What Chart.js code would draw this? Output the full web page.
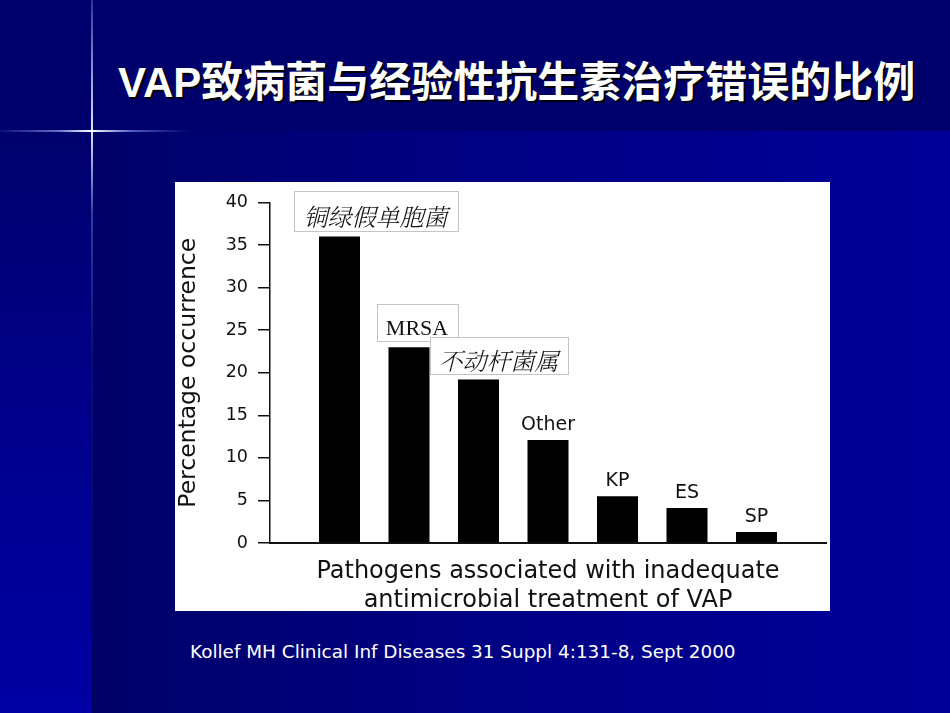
<!DOCTYPE html>
<html>
<head>
<meta charset="utf-8">
<script src="https://cdn.jsdelivr.net/npm/chart.js@4"></script>
<style>
  html, body { margin: 0; padding: 0; }
  body {
    width: 950px; height: 713px; overflow: hidden; position: relative;
    background: #00006c;
  }
  #lower {
    position: absolute; left: 92px; top: 131px; width: 858px; height: 582px;
    background: linear-gradient(to right, #000068 0%, #000084 45%, #000098 100%);
  }
  #strip {
    position: absolute; left: 0; top: 131px; width: 92px; height: 582px;
    background: linear-gradient(to bottom, #00006c 0%, #00008c 50%, #0000a4 100%);
  }
  #vline {
    position: absolute; left: 91px; top: 0; width: 2px; height: 713px;
    background: linear-gradient(to bottom, rgba(120,150,255,0.35) 0%, rgba(220,230,255,1) 18.4%, rgba(120,150,255,0.4) 30%, rgba(80,100,220,0.12) 50%, rgba(0,0,0,0.15) 100%);
  }
  #hline {
    position: absolute; left: 0; top: 130px; width: 190px; height: 2px;
    background: linear-gradient(to right, rgba(120,150,255,0.1) 0%, rgba(150,180,255,0.6) 30%, rgba(255,255,255,1) 48%, rgba(120,150,255,0.6) 70%, rgba(80,100,255,0) 100%);
  }
  #title {
    position: absolute; left: 118px; top: 58px; white-space: nowrap;
    font: bold 42px "Liberation Sans", "Noto Sans CJK SC", sans-serif;
    line-height: 50px; color: #fff;
    text-shadow: 2px 2px 0 #000;
  }
  #panel {
    position: absolute; left: 175px; top: 182px; width: 655px; height: 429px;
    background: #fff;
  }
  #cite {
    position: absolute; left: 190px; top: 640px; white-space: nowrap;
    font: 18.4px "DejaVu Sans", sans-serif; color: #fff; line-height: 24px;
  }
</style>
</head>
<body>
<div id="lower"></div>
<div id="strip"></div>
<div id="vline"></div>
<div id="hline"></div>
<div id="title">VAP致病菌与经验性抗生素治疗错误的比例</div>
<div id="panel"><canvas id="chart"></canvas></div>
<div id="cite">Kollef MH Clinical Inf Diseases 31 Suppl 4:131-8, Sept 2000</div>

<script>
// pathogens (labels over the bars) and % occurrence
const pathogens = ['铜绿假单胞菌', 'MRSA', '不动杆菌属', 'Other', 'KP', 'ES', 'SP'];
const occurrence = [36, 23, 19.2, 12.1, 5.5, 4.1, 1.3];
const yMax = 40;
const yStep = 5;
const xTitle = ['Pathogens associated with inadequate', 'antimicrobial treatment of VAP'];
const yTitle = 'Percentage occurrence';

// pasted text boxes in the slide (chinese names + MRSA)
const boxed = {
  '铜绿假单胞菌': { dx: 36, w: 164, h: 40, font: 'italic 300 24px "Noto Serif CJK SC", "Noto Sans CJK SC", serif', ty: 5 },
  'MRSA': { dx: 8, w: 81, h: 37, font: '22px "Liberation Serif", serif', ty: 6 },
  '不动杆菌属': { dx: 20, w: 138, h: 37, font: 'italic 300 24px "Noto Serif CJK SC", "Noto Sans CJK SC", serif', ty: 5 }
};

const sans = '"DejaVu Sans", "Liberation Sans", sans-serif';

const barLabels = {
  id: 'barLabels',
  afterDatasetsDraw(chart) {
    const ctx = chart.ctx;
    const bars = chart.getDatasetMeta(0).data;
    ctx.save();
    pathogens.forEach((name, i) => {
      const bar = bars[i + 1];
      const b = boxed[name];
      if (b) {
        const cx = bar.x + b.dx;
        const bottom = bar.y - 6;
        const left = Math.round(cx - b.w / 2) + 0.5;
        const top = Math.round(bottom - b.h) + 0.5;
        ctx.fillStyle = '#fff';
        ctx.fillRect(left, top, b.w, b.h);
        ctx.strokeStyle = '#c4c4c4';
        ctx.lineWidth = 1;
        ctx.strokeRect(left, top, b.w, b.h);
        ctx.fillStyle = '#111';
        ctx.font = b.font;
        ctx.textAlign = 'center';
        ctx.textBaseline = 'middle';
        ctx.fillText(name, cx, top + b.h / 2 + b.ty);
      } else {
        ctx.fillStyle = '#111';
        ctx.font = '19px ' + sans;
        ctx.textAlign = 'center';
        ctx.textBaseline = 'alphabetic';
        ctx.fillText(name, bar.x, bar.y - 10);
      }
    });
    ctx.restore();
  }
};

new Chart(document.getElementById('chart'), {
  type: 'bar',
  data: {
    labels: ['', ...pathogens, ''],
    datasets: [{
      data: [null, ...occurrence, null],
      backgroundColor: '#000',
      borderWidth: 0,
      categoryPercentage: 1,
      barPercentage: 0.59
    }]
  },
  options: {
    responsive: true,
    maintainAspectRatio: false,
    animation: false,
    layout: { padding: { top: 14, right: 4, left: 0, bottom: 0 } },
    plugins: { legend: { display: false }, tooltip: { enabled: false } },
    scales: {
      x: {
        offset: false,
        grid: { display: false },
        border: { display: true, color: '#111', width: 2 },
        ticks: { display: false },
        title: {
          display: true,
          text: xTitle,
          color: '#111',
          font: { family: sans, size: 24, lineHeight: 1.2 },
          padding: { top: 0, bottom: -4 }
        },
        afterFit(scale) { scale.height = 68; }
      },
      y: {
        min: 0,
        max: yMax,
        ticks: {
          stepSize: yStep,
          color: '#111',
          padding: 10,
          font: { family: sans, size: 17.5 }
        },
        grid: { drawOnChartArea: false, drawTicks: true, tickLength: 12, color: '#111', lineWidth: 1.5 },
        border: { display: true, color: '#111', width: 1.5 },
        title: {
          display: true,
          text: yTitle,
          color: '#111',
          font: { family: sans, size: 23.5 },
          padding: 0
        },
        afterFit(scale) { scale.width = 95; }
      }
    }
  },
  plugins: [barLabels]
});
</script>
</body>
</html>
